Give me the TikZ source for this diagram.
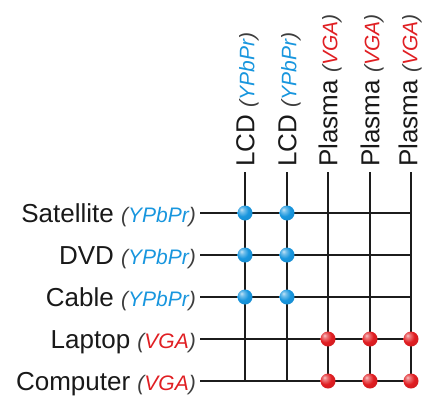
\documentclass[tikz,border=0pt]{standalone}
\usepackage{fontspec}
\setmainfont{Liberation Sans}
\definecolor{cblue}{RGB}{24,150,222}
\definecolor{cred}{RGB}{224,30,34}
\definecolor{cgray}{RGB}{60,60,60}
\definecolor{cline}{RGB}{28,28,28}
\pgfdeclareradialshading{blueball}{\pgfpoint{-12bp}{12bp}}{%
  color(0bp)=(cblue!25!white); color(7bp)=(cblue!60!white); color(20bp)=(cblue);
  color(45bp)=(cblue!88!black); color(70bp)=(cblue!75!black)}
\pgfdeclareradialshading{redball}{\pgfpoint{-12bp}{12bp}}{%
  color(0bp)=(cred!25!white); color(7bp)=(cred!60!white); color(20bp)=(cred);
  color(45bp)=(cred!88!black); color(70bp)=(cred!75!black)}
\newcommand{\tagB}[1]{{\fontsize{21}{23}\selectfont\itshape\textcolor{cgray}{(}\textcolor{cblue}{#1}\textcolor{cgray}{)}}}
\newcommand{\tagR}[1]{{\fontsize{21}{23}\selectfont\itshape\textcolor{cgray}{(}\textcolor{cred}{#1}\textcolor{cgray}{)}}}
\tikzset{
  lbl/.style={font=\fontsize{26}{28}\selectfont, text=black!90, inner sep=0pt},
  rowlbl/.style={lbl, anchor=base east},
  collbl/.style={lbl, rotate=90, anchor=base west},
  wire/.style={line width=2pt, draw=cline},
  bdot/.style={circle, inner sep=0pt, minimum size=15pt, shading=blueball},
  rdot/.style={circle, inner sep=0pt, minimum size=15pt, shading=redball},
}
\begin{document}
\begin{tikzpicture}[x=1pt, y=-1pt]
\path[use as bounding box] (0,0) rectangle (422,396);

% row labels
\node[rowlbl] (r1) at (196,222.3) {Satellite \tagB{YPbPr}};
\node[rowlbl] (r2) at (196,264.3) {DVD \tagB{YPbPr}};
\node[rowlbl] (r3) at (196,306.3) {Cable \tagB{YPbPr}};
\node[rowlbl] (r4) at (196,348.3) {Laptop \tagR{VGA}};
\node[rowlbl] (r5) at (196,390.3) {Computer \tagR{VGA}};

% column labels
\node[collbl] (c1) at (254.3,167) {LCD \tagB{YPbPr}};
\node[collbl] (c2) at (296.3,167) {LCD \tagB{YPbPr}};
\node[collbl] (c3) at (337.3,167) {Plasma \tagR{VGA}};
\node[collbl] (c4) at (379.3,167) {Plasma \tagR{VGA}};
\node[collbl] (c5) at (417.3,167) {Plasma \tagR{VGA}};

% wire ends
\foreach \i/\y in {1/213,2/255,3/297,4/339,5/381} {
  \coordinate (rs\i) at (200,\y);
  \coordinate (re\i) at (412,\y);
}
\foreach \j/\x in {1/245,2/287,3/328,4/370,5/411} {
  \coordinate (cs\j) at (\x,172);
  \coordinate (ce\j) at (\x,382);
}
\foreach \i in {1,...,5} {
  \draw[wire] (rs\i) -- (re\i);
  \draw[wire] (cs\i) -- (ce\i);
}

% crossing dots
\foreach \i/\y in {1/213,2/255,3/297} {
  \foreach \j/\x in {1/245,2/287} {
    \node[bdot] (d\i\j) at (\x,\y) {};
  }
}
\foreach \i/\y in {4/339,5/381} {
  \foreach \j/\x in {3/328,4/370,5/411} {
    \node[rdot] (d\i\j) at (\x,\y) {};
  }
}
\end{tikzpicture}
\end{document}
